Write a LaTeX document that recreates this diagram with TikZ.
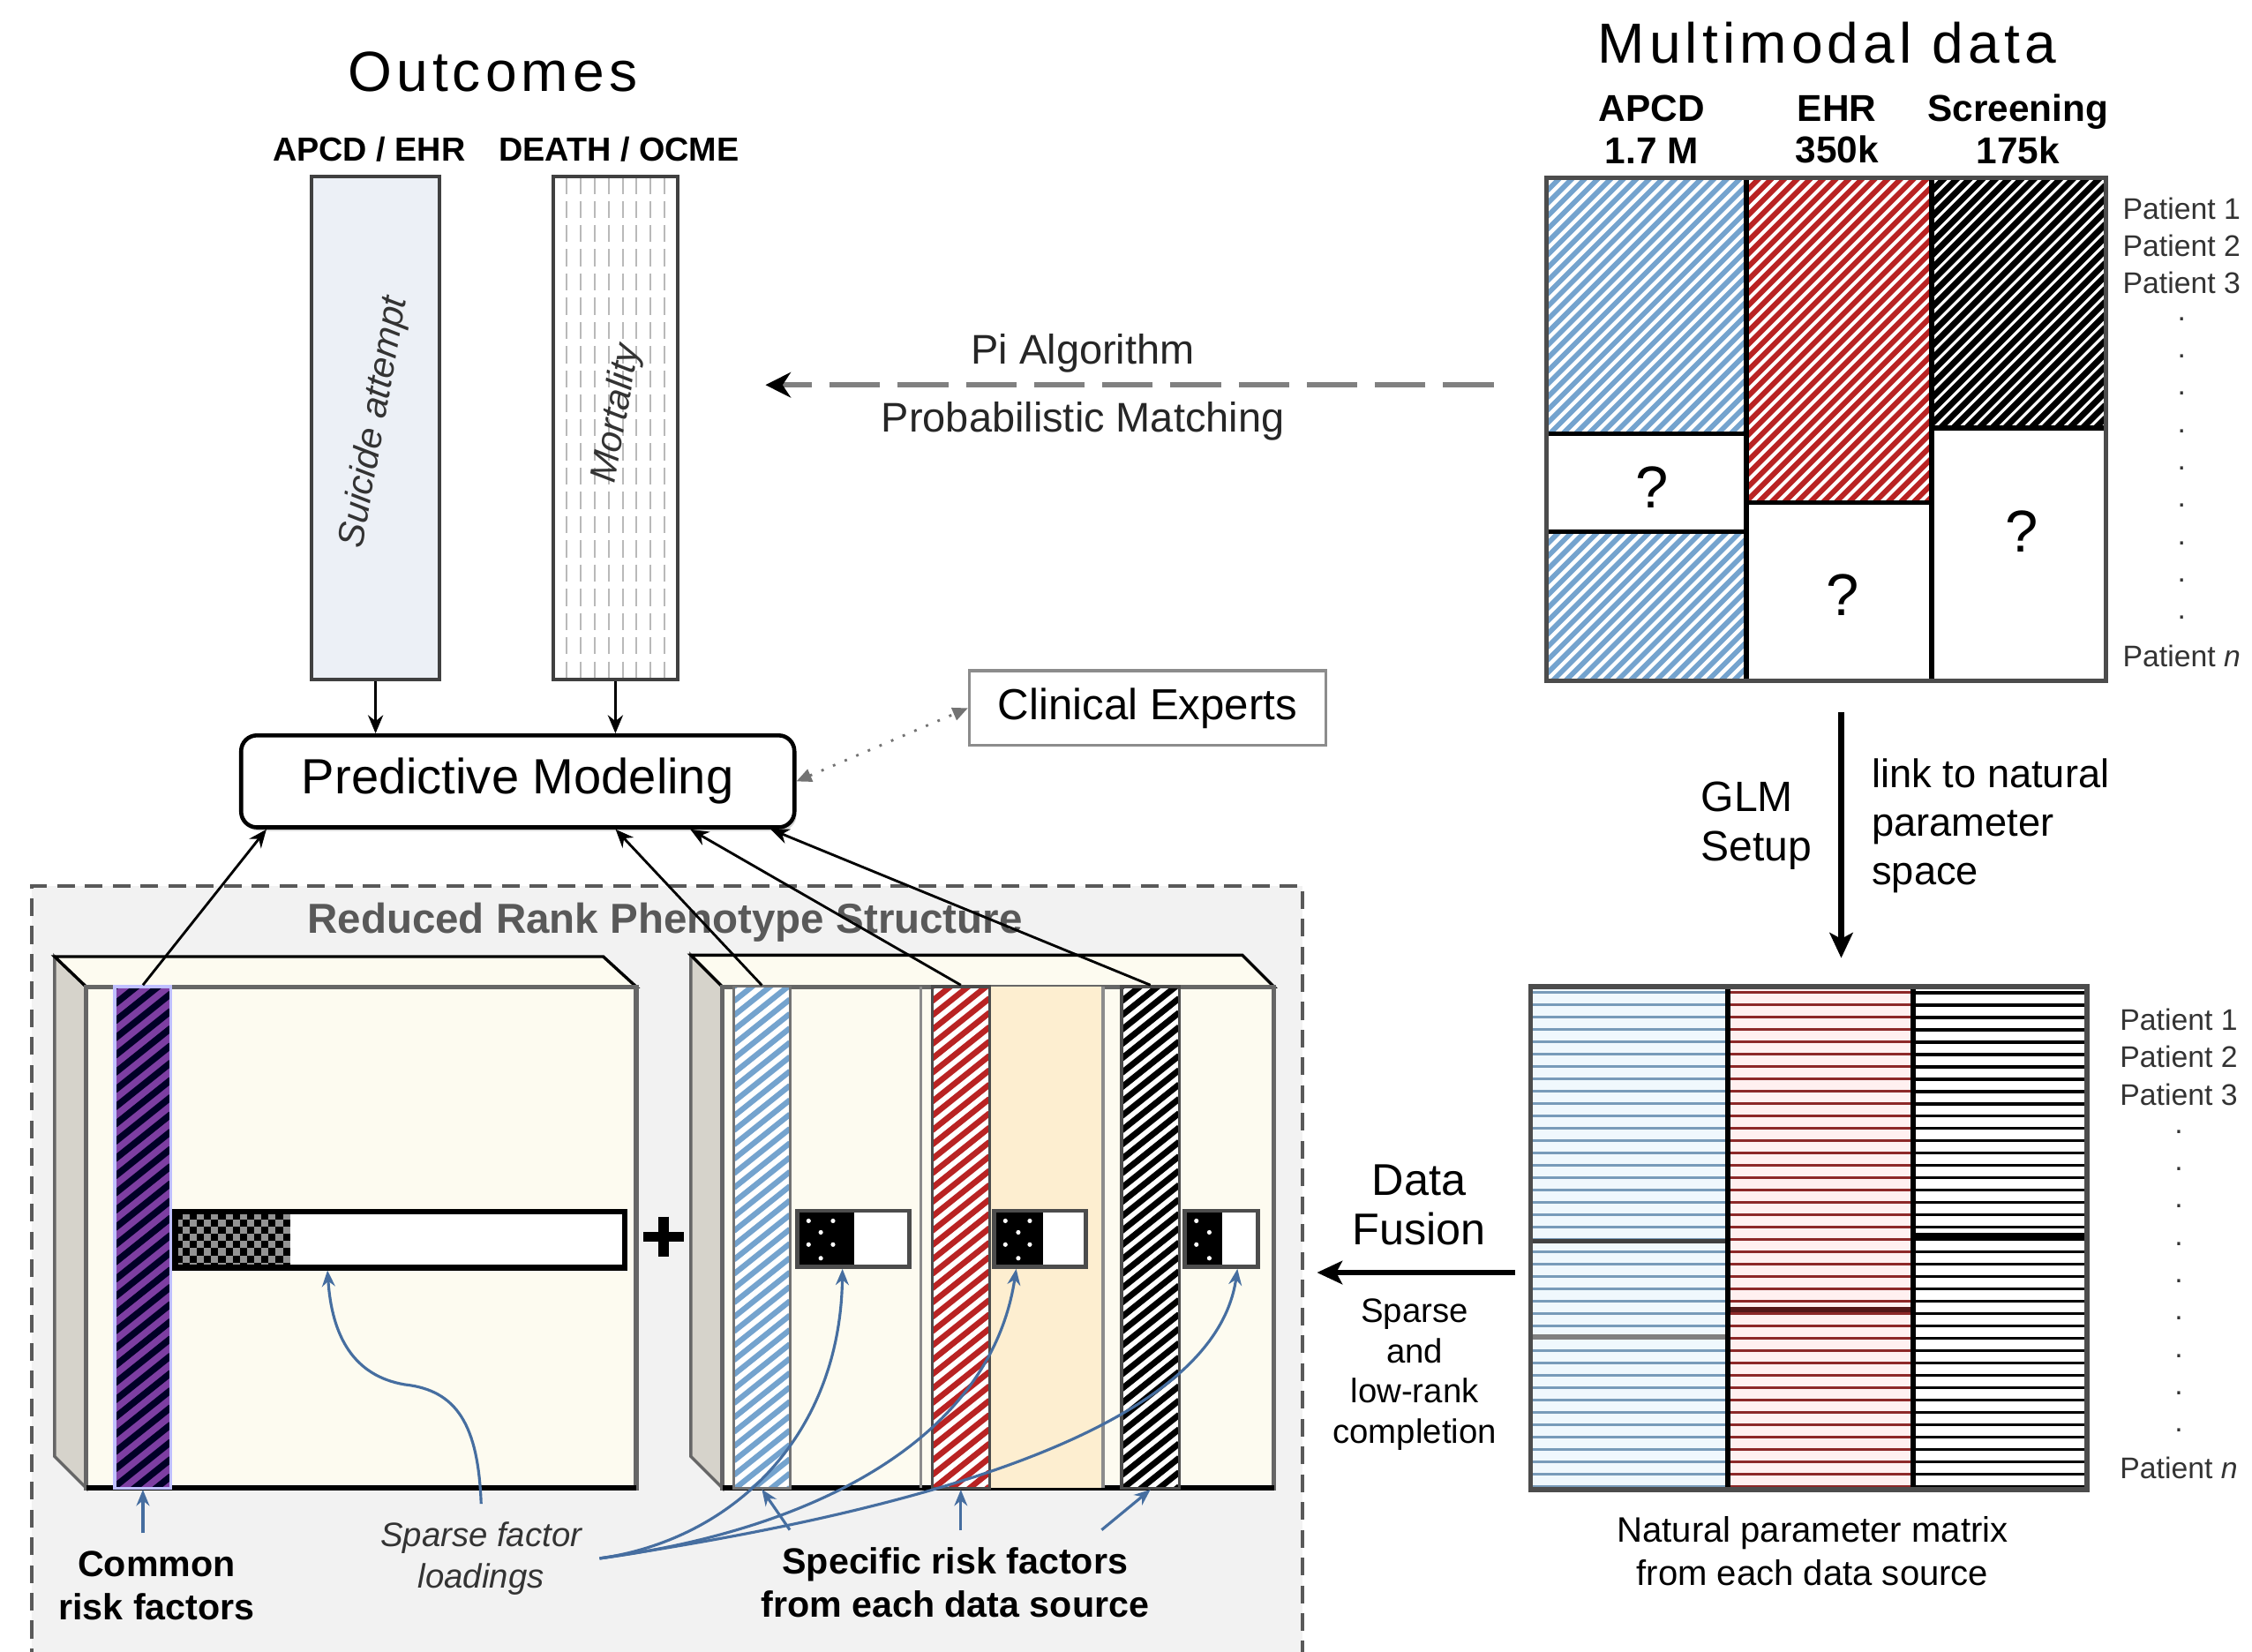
\documentclass[tikz,border=0pt]{standalone}
\usepackage{fontspec}
\setmainfont{Liberation Sans}
\newfontfamily\spacedfont[LetterSpace=8]{Liberation Sans}
\usetikzlibrary{arrows.meta, positioning, shadows}

\definecolor{apcdblue}{RGB}{116,163,206}
\definecolor{ehrred}{RGB}{185,35,35}
\definecolor{outfill}{RGB}{236,240,246}
\definecolor{cream}{RGB}{253,251,240}
\definecolor{sidegray}{RGB}{214,211,203}
\definecolor{panelgray}{RGB}{242,242,242}
\definecolor{loadorange}{RGB}{253,238,208}
\definecolor{pointblue}{RGB}{70,110,160}
\definecolor{riskpurple}{RGB}{125,62,162}
\definecolor{natblue}{RGB}{120,155,185}
\definecolor{natbluebg}{RGB}{240,248,253}
\definecolor{natred}{RGB}{140,40,40}
\definecolor{natredbg}{RGB}{255,240,240}

\tikzstyle{heading} = [font=\spacedfont\fontsize{11.2}{13}\selectfont]
\tikzstyle{source} = [font=\bfseries\fontsize{6.6}{8}\selectfont, inner sep=0pt]
\tikzstyle{colhead} = [font=\bfseries\fontsize{7.4}{8.3}\selectfont, align=center, inner sep=0pt]
\tikzstyle{outcome} = [rectangle, draw=black!75, line width=0.7pt, minimum height=3.5cm, inner sep=0pt]
\tikzstyle{outtext} = [font=\itshape\fontsize{7.3}{8}\selectfont, text=black!80, rotate=80]
\tikzstyle{model} = [rectangle, rounded corners=0.11cm, draw=black, line width=0.8pt, fill=white, minimum width=3.85cm, minimum height=0.64cm, font=\fontsize{9.8}{11}\selectfont, drop shadow={shadow xshift=0.4pt, shadow yshift=-0.7pt, opacity=0.35}]
\tikzstyle{expert} = [rectangle, draw=black!45, line width=0.6pt, minimum width=2.48cm, minimum height=0.52cm, font=\fontsize{8.6}{10}\selectfont]
\tikzstyle{captext} = [font=\fontsize{8.2}{9.5}\selectfont, text=black!85]
\tikzstyle{patient} = [font=\fontsize{5.9}{7}\selectfont, text=black!80, inner sep=0pt]
\tikzstyle{qmark} = [font=\fontsize{11.7}{13}\selectfont, inner sep=0pt]
\tikzstyle{glmtext} = [font=\fontsize{8.4}{9.7}\selectfont, align=left]
\tikzstyle{linktext} = [font=\fontsize{7.9}{9.6}\selectfont, align=left]
\tikzstyle{natext} = [font=\fontsize{7}{8.5}\selectfont, align=center]
\tikzstyle{fusetext} = [font=\fontsize{8.8}{9.7}\selectfont, align=center]
\tikzstyle{smalltext} = [font=\fontsize{6.7}{8}\selectfont, align=center]
\tikzstyle{paneltitle} = [font=\bfseries\fontsize{8.3}{10}\selectfont, text=black!65]
\tikzstyle{risklabel} = [font=\bfseries\fontsize{7.2}{8.6}\selectfont, align=center]
\tikzstyle{sparsetext} = [font=\itshape\fontsize{6.7}{8.3}\selectfont, align=center, text=black!80]
\tikzstyle{boxside} = [fill=sidegray, draw=black!60, line width=0.6pt]
\tikzstyle{boxtop} = [fill=cream, draw=black, line width=0.6pt]
\tikzstyle{boxfront} = [fill=cream, draw=black!60, line width=0.9pt]
\tikzstyle{stripe} = [rectangle, minimum width=0.39cm, minimum height=3.49cm, inner sep=0pt]
\tikzstyle{loadbox} = [rectangle, minimum height=0.39cm, inner sep=0pt, draw=black!70, line width=0.8pt]
\tikzstyle{arrow} = [-{Stealth[length=3.6pt,width=3pt]}, line width=0.5pt]
\tikzstyle{thickarrow} = [-{Stealth[length=5pt,width=4.6pt,inset=1.2pt]}, line width=1.2pt]
\tikzstyle{pointer} = [-{Stealth[length=3.2pt,width=2.6pt]}, draw=pointblue, line width=0.55pt]
\tikzstyle{advice} = [{Triangle[length=3pt,width=2.6pt]}-{Triangle[length=3pt,width=2.6pt]}, dotted, draw=black!55, line width=0.5pt]
\tikzstyle{matching} = [-{Stealth[length=5pt,width=5pt,color=black]}, draw=black!50, line width=0.95pt, dash pattern=on 10pt off 3.5pt]

% rising hatch lines clipped to a rectangle:
% x1 y1 x2 y2 colour width (vertical) pitch slope
\newcommand{\hatchrect}[8]{%
  \begin{scope}
    \clip (#1,#2) rectangle (#3,#4);
    \pgfmathsetmacro{\hatchW}{#3-#1}
    \pgfmathsetmacro{\hatchE}{#4+#8*\hatchW}
    \pgfmathsetmacro{\hatchN}{#2+#7}
    \foreach \hy in {#2,\hatchN,...,\hatchE}
      \draw[draw=#5, line width=#6] (#1,\hy) -- ++(\hatchW,-#8*\hatchW);
  \end{scope}}

\begin{document}
\begin{tikzpicture}[x=0.01cm, y=-0.01cm]
\useasboundingbox (0,0) rectangle (1568,1150);
\fill[white] (0,0) rectangle (1568,1150);

% outcomes
\node (outhead) [heading] at (343,50) {Outcomes};
\node (srcA) [source] at (257,104) {APCD / EHR};
\node (srcB) [source] at (431,104) {DEATH / OCME};
\node (suicide) [outcome, fill=outfill, minimum width=0.89cm] at (261.5,298) {};
\node (mortality) [outcome, fill=white, minimum width=0.87cm, path picture={
    \foreach \k in {1,...,8}
      \draw[gray!55, line width=0.35pt, dash pattern=on 3.4pt off 1.4pt]
        ([xshift=\k*0.097cm]path picture bounding box.north west) -- ([xshift=\k*0.097cm]path picture bounding box.south west);}] at (428.5,298) {};
\node (suicidetext) [outtext] at (261,294) {Suicide attempt};
\node (mortalitytext) [outtext] at (430,288) {Mortality};

\node (pm) [model] at (360.5,544) {Predictive Modeling};
\draw [arrow] (suicide.south) -- (suicide.south |- pm.north);
\draw [arrow] (mortality.south) -- (mortality.south |- pm.north);

\node (experts) [expert] at (799,493) {Clinical Experts};
\draw [advice] (pm.east) -- (experts.west);

% record linkage
\coordinate (pistart) at (1040,268);
\coordinate (piend) at (533,268);
\draw [matching] (pistart) -- (piend);
\node (pialgo) [captext] at (754,246) {Pi Algorithm};
\node (pimatch) [captext] at (754,293) {Probabilistic Matching};

% multimodal data matrix
\node (datahead) [heading] at (1272,30) {Multimodal data};
\node (apcdhead) [colhead] at (1150,90) {APCD\\1.7 M};
\node (ehrhead) [colhead] at (1279,90) {EHR\\350k};
\node (scrhead) [colhead] at (1405,90) {Screening\\175k};

\hatchrect{1077}{124}{1216}{302}{apcdblue}{1pt}{9}{1}
\hatchrect{1077}{370}{1216}{474}{apcdblue}{1pt}{9}{1}
\hatchrect{1216}{124}{1345}{350}{ehrred}{1.05pt}{9}{1}
\hatchrect{1345}{124}{1466}{298}{black}{1.2pt}{9}{1}
\draw[line width=0.9pt] (1077,302) -- (1216,302) (1077,370) -- (1216,370);
\draw[line width=0.9pt] (1216,350) -- (1345,350) (1345,298) -- (1466,298);
\draw[line width=1pt] (1216,124) -- (1216,474) (1345,124) -- (1345,474);
\node (rawdata) [rectangle, draw=black!70, line width=0.9pt, minimum width=3.89cm, minimum height=3.5cm, inner sep=0pt] at (1271.5,299) {};
\node (apcdq) [qmark] at (1150,339) {?};
\node (ehrq) [qmark] at (1283,414) {?};
\node (scrq) [qmark] at (1408,370) {?};

\foreach \py/\pn in {145/1,171/2,197/3}
  \node (top\pn) [patient] at (1519,\py) {Patient \pn};
\foreach \py in {222,248,...,430}
  \node (topdot\py) [patient] at (1519,\py) {.};
\node (topn) [patient] at (1519,457) {Patient \textit{n}};

% GLM step
\coordinate (glmtop) at (1282,496);
\coordinate (glmend) at (1282,667);
\draw [thickarrow] (glmtop) -- (glmend);
\node (glm) [glmtext, anchor=west] at (1172,575) {GLM\\Setup};
\node (link) [linktext, anchor=west] at (1291,575) {link to natural\\parameter\\space};

% natural parameter matrix
\fill[natbluebg] (1066,687) rectangle (1203,1037);
\fill[natredbg] (1203,687) rectangle (1332,1037);
\fill[white] (1332,687) rectangle (1453,1037);
\foreach \ry in {691,699.6,...,1036} {
  \draw[natblue, line width=0.5pt] (1066,\ry) -- (1203,\ry);
  \draw[natred, line width=0.5pt] (1203,\ry) -- (1332,\ry);
  \draw[black, line width=0.65pt] (1332,\ry) -- (1453,\ry);
}
\draw[black!75, line width=0.8pt] (1066,864) -- (1203,864);
\draw[gray, line width=1pt] (1066,931) -- (1203,931);
\draw[natred!60!black, line width=1pt] (1203,912) -- (1332,912);
\draw[black, line width=1.4pt] (1332,861) -- (1453,861);
\draw[line width=1pt] (1203,687) -- (1203,1037) (1332,687) -- (1332,1037);
\node (natural) [rectangle, draw=black!70, line width=0.9pt, minimum width=3.87cm, minimum height=3.5cm, inner sep=0pt] at (1259.5,862) {};
\node (natlabel) [natext] at (1262,1080) {Natural parameter matrix\\from each data source};

\foreach \py/\pn in {710/1,736/2,762/3}
  \node (bot\pn) [patient] at (1517,\py) {Patient \pn};
\foreach \py in {788,814,...,996}
  \node (botdot\py) [patient] at (1517,\py) {.};
\node (botn) [patient] at (1517,1022) {Patient \textit{n}};

% data fusion step
\coordinate (fusestart) at (1055,886);
\coordinate (fuseend) at (917,886);
\draw [thickarrow] (fusestart) -- (fuseend);
\node (fusion) [fusetext] at (988,839) {Data\\Fusion};
\node (completion) [smalltext] at (985,957) {Sparse\\and\\low-rank\\completion};

% reduced rank panel
\fill[panelgray] (22,617) rectangle (907,1160);
\draw[black!65, line width=0.7pt, dash pattern=on 3.5pt off 2pt] (22,1160) -- (22,617) -- (907,617) -- (907,1160);
\node (panelhead) [paneltitle] at (463,642) {Reduced Rank Phenotype Structure};

% common factor block
\filldraw[boxside] (38,666) -- (60,687) -- (60,1036) -- (38,1014) -- cycle;
\filldraw[boxtop] (38,666) -- (420,666) -- (443,687) -- (60,687) -- cycle;
\filldraw[boxfront] (60,687) rectangle (443,1036);
\draw[line width=1.1pt] (60,1036) -- (443,1036);
\fill[riskpurple] (80,687) rectangle (119,1036);
\hatchrect{80}{687}{119}{1036}{black!85!blue}{1.3pt}{12}{0.8}
\node (common) [stripe, draw=blue!25, line width=0.6pt] at (99.5,861.5) {};

\fill[white] (122,844) rectangle (435,882);
\begin{scope}
  \clip (122,844) rectangle (202,882);
  \fill[gray!85] (122,844) rectangle (202,882);
  \foreach \i in {0,2,...,14}
    \foreach \j in {0,2,4,6} {
      \fill (122+5*\i,844+5*\j) rectangle ++(5,5);
      \fill (127+5*\i,849+5*\j) rectangle ++(5,5);
    }
\end{scope}
\node (loadbar) [loadbox, draw=black, line width=1.1pt, minimum width=3.13cm] at (278.5,863) {};

\draw[line width=2pt] (448,861) -- (476,861) (462,847) -- (462,875);

% specific factor block
\filldraw[boxside] (481,665) -- (503,687) -- (503,1036) -- (481,1014) -- cycle;
\filldraw[boxtop] (481,665) -- (865,665) -- (887,687) -- (503,687) -- cycle;
\filldraw[boxfront] (503,687) rectangle (887,1036);
\draw[line width=1.1pt] (503,1036) -- (887,1036);
\fill[loadorange] (689,687) rectangle (768,1036);
\draw[black!45, line width=0.6pt] (641,687) -- (641,1036) (768,687) -- (768,1036);

\fill[white] (511,687) rectangle (550,1036);
\hatchrect{511}{687}{550}{1036}{apcdblue}{1.1pt}{10}{0.8}
\node (apcdrisk) [stripe, draw=black!55, line width=0.5pt] at (530.5,861.5) {};
\fill[white] (649,687) rectangle (689,1036);
\hatchrect{649}{687}{689}{1036}{ehrred}{1.15pt}{10}{0.8}
\node (ehrrisk) [stripe, draw=black!70, line width=0.6pt, minimum width=0.4cm] at (669,861.5) {};
\fill[white] (781,687) rectangle (821,1036);
\hatchrect{781}{687}{821}{1036}{black}{1.2pt}{10}{0.8}
\node (scrrisk) [stripe, draw=black!70, line width=0.6pt, minimum width=0.4cm] at (801,861.5) {};

\fill[white] (555,843) rectangle (633,882);
\fill[black] (555,843) rectangle (595,882);
\foreach \dx/\dy in {8/7,25/7,16.5/15,8/23.5,25/23.5,16.5/33}
  \fill[white] (555+\dx,843+\dy) circle[radius=0.45pt];
\node (apcdload) [loadbox, minimum width=0.78cm] at (594,862.5) {};

\fill[white] (692,843) rectangle (756,882);
\fill[black] (692,843) rectangle (726,882);
\foreach \dx/\dy in {8/7,25/7,17/15,8/23.5,25/23.5,17/33}
  \fill[white] (692+\dx,843+\dy) circle[radius=0.45pt];
\node (ehrload) [loadbox, minimum width=0.64cm] at (724,862.5) {};

\fill[white] (825,843) rectangle (876,882);
\fill[black] (825,843) rectangle (851,882);
\foreach \dx/\dy in {8/7,17/15,8/23.5,17/33}
  \fill[white] (825+\dx,843+\dy) circle[radius=0.45pt];
\node (scrload) [loadbox, minimum width=0.51cm] at (850.5,862.5) {};

% annotations
\node (commonlabel) [risklabel] at (109,1104) {Common\\risk factors};
\node (sparselabel) [sparsetext] at (335,1085) {Sparse factor\\loadings};
\node (specificlabel) [risklabel] at (665,1102) {Specific risk factors\\from each data source};

\draw [pointer] (common.south |- commonlabel.north) -- (common.south);
\draw [pointer] (sparselabel.north) .. controls (333,992) and (318,968) .. (282,964) .. controls (246,958) and (231,930) .. ([xshift=1.08cm]loadbar.south west);
\draw [pointer] (sparselabel.east) .. controls (510,1072) and (585,1000) .. ([xshift=0.33cm]apcdload.south west);
\draw [pointer] (sparselabel.east) .. controls (570,1065) and (690,1000) .. ([xshift=0.17cm]ehrload.south west);
\draw [pointer] (sparselabel.east) .. controls (620,1055) and (845,1000) .. ([xshift=0.38cm]scrload.south west);
\draw [pointer] ([xshift=-1.15cm]specificlabel.north) -- (apcdrisk.south);
\draw [pointer] (ehrrisk.south |- specificlabel.north) -- (ehrrisk.south);
\draw [pointer] ([xshift=1.02cm]specificlabel.north) -- (scrrisk.south);

% factors feed the model
\draw [arrow] (common.north) -- ([xshift=0.19cm]pm.south west);
\draw [arrow] (apcdrisk.north) -- ([xshift=2.62cm]pm.south west);
\draw [arrow] (ehrrisk.north) -- ([xshift=3.14cm]pm.south west);
\draw [arrow] (scrrisk.north) -- ([xshift=3.7cm]pm.south west);
\end{tikzpicture}
\end{document}
